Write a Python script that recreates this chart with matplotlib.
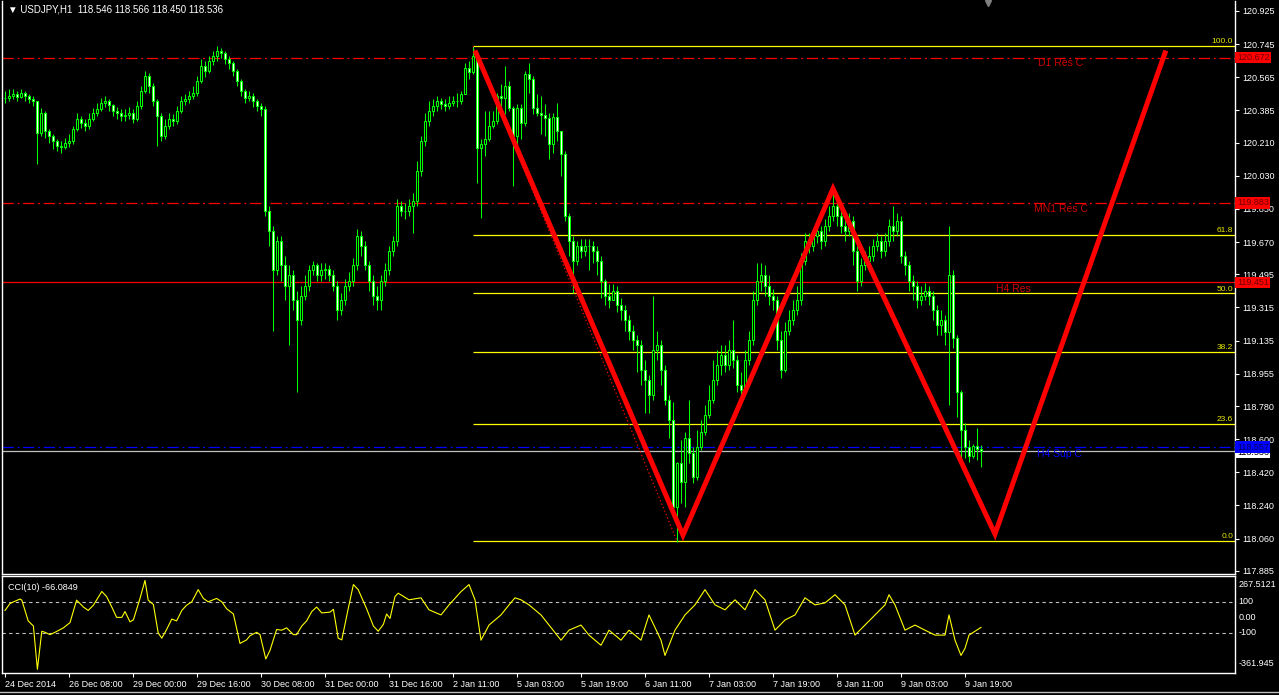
import numpy as np
import matplotlib.pyplot as plt
import matplotlib.transforms as mtransforms

plt.rcParams['font.family'] = ['Liberation Sans', 'DejaVu Sans']

# USDJPY H1, one value per bar (24 Dec 2014 .. 9 Jan 2015)
first_open = 120.45
closes = [
    120.453, 120.464, 120.475, 120.458, 120.480, 120.464, 120.448, 120.437, 120.263, 120.372,
    120.274, 120.247, 120.220, 120.193, 120.187, 120.209, 120.220, 120.285, 120.339, 120.318,
    120.301, 120.339, 120.372, 120.394, 120.426, 120.437, 120.415, 120.383, 120.372, 120.356,
    120.361, 120.372, 120.339, 120.410, 120.491, 120.573, 120.518, 120.437, 120.356, 120.247,
    120.301, 120.339, 120.329, 120.383, 120.437, 120.448, 120.464, 120.480, 120.545, 120.627,
    120.600, 120.654, 120.681, 120.708, 120.697, 120.665, 120.643, 120.600, 120.545, 120.491,
    120.453, 120.464, 120.437, 120.410, 120.394, 119.841, 119.732, 119.516, 119.678, 119.543,
    119.434, 119.489, 119.353, 119.245, 119.380, 119.434, 119.516, 119.543, 119.489, 119.516,
    119.526, 119.489, 119.434, 119.299, 119.353, 119.434, 119.461, 119.543, 119.705, 119.651,
    119.543, 119.461, 119.380, 119.353, 119.461, 119.516, 119.624, 119.678, 119.868, 119.841,
    119.841, 119.868, 119.895, 120.058, 120.220, 120.329, 120.383, 120.410, 120.437, 120.421,
    120.410, 120.426, 120.437, 120.437, 120.475, 120.616, 120.594, 120.681, 120.182, 120.204,
    120.231, 120.301, 120.329, 120.464, 120.453, 120.518, 120.399, 120.247, 120.399, 120.318,
    120.583, 120.556, 120.399, 120.372, 120.361, 120.345, 120.204, 120.350, 120.274, 120.150,
    119.814, 119.678, 119.570, 119.651, 119.624, 119.651, 119.651, 119.624, 119.570, 119.461,
    119.380, 119.353, 119.407, 119.326, 119.299, 119.245, 119.190, 119.136, 119.109, 118.974,
    118.919, 118.838, 119.082, 119.109, 118.974, 118.811, 118.703, 118.231, 118.470, 118.366,
    118.605, 118.524, 118.394, 118.556, 118.638, 118.730, 118.811, 118.919, 119.001, 119.055,
    119.001, 119.082, 119.028, 118.892, 118.865, 119.028, 119.136, 119.353, 119.461, 119.489,
    119.434, 119.380, 119.353, 119.136, 118.974, 119.190, 119.245, 119.299, 119.353, 119.570,
    119.678, 119.651, 119.705, 119.732, 119.678, 119.760, 119.814, 119.868, 119.814, 119.760,
    119.732, 119.787, 119.624, 119.461, 119.543, 119.570, 119.597, 119.651, 119.678, 119.624,
    119.678, 119.760, 119.732, 119.787, 119.597, 119.543, 119.461, 119.434, 119.353, 119.380,
    119.407, 119.380, 119.299, 119.218, 119.245, 119.180, 119.489, 119.152, 118.854, 118.648,
    118.556, 118.508, 118.562, 118.546, 118.536,
]
highs = [
    120.491, 120.502, 120.502, 120.491, 120.502, 120.491, 120.475, 120.464, 120.437, 120.399,
    120.383, 120.285, 120.258, 120.231, 120.220, 120.236, 120.258, 120.301, 120.372, 120.356,
    120.339, 120.372, 120.399, 120.426, 120.453, 120.464, 120.448, 120.421, 120.404, 120.394,
    120.394, 120.404, 120.394, 120.437, 120.518, 120.600, 120.589, 120.534, 120.448, 120.372,
    120.339, 120.372, 120.367, 120.410, 120.464, 120.475, 120.491, 120.518, 120.573, 120.665,
    120.654, 120.681, 120.708, 120.735, 120.724, 120.708, 120.681, 120.654, 120.611, 120.556,
    120.502, 120.491, 120.480, 120.448, 120.426, 120.410, 119.868, 119.760, 119.705, 119.705,
    119.597, 119.543, 119.516, 119.407, 119.434, 119.489, 119.543, 119.570, 119.559, 119.559,
    119.559, 119.543, 119.516, 119.461, 119.396, 119.472, 119.505, 119.581, 119.743, 119.732,
    119.678, 119.570, 119.489, 119.434, 119.489, 119.559, 119.651, 119.705, 119.906, 119.895,
    119.884, 119.906, 119.938, 120.112, 120.247, 120.372, 120.437, 120.448, 120.464, 120.453,
    120.448, 120.464, 120.464, 120.480, 120.491, 120.643, 120.654, 120.735, 120.681, 120.231,
    120.383, 120.383, 120.383, 120.480, 120.529, 120.627, 120.545, 120.410, 120.421, 120.421,
    120.600, 120.643, 120.573, 120.475, 120.464, 120.421, 120.372, 120.372, 120.426, 120.274,
    120.166, 119.830, 119.705, 119.678, 119.689, 119.689, 119.689, 119.678, 119.651, 119.597,
    119.472, 119.445, 119.445, 119.434, 119.364, 119.326, 119.272, 119.218, 119.163, 119.136,
    119.028, 118.946, 119.380, 119.190, 119.136, 119.001, 118.838, 118.800, 118.475, 118.594,
    118.638, 118.811, 118.556, 118.648, 118.703, 118.784, 118.892, 119.028, 119.082, 119.109,
    119.109, 119.136, 119.245, 119.055, 118.963, 119.082, 119.190, 119.407, 119.559, 119.559,
    119.543, 119.489, 119.418, 119.380, 119.190, 119.234, 119.299, 119.353, 119.434, 119.613,
    119.722, 119.722, 119.743, 119.776, 119.760, 119.797, 119.868, 119.960, 119.895, 119.841,
    119.797, 119.830, 119.814, 119.651, 119.581, 119.624, 119.651, 119.689, 119.722, 119.705,
    119.722, 119.797, 119.868, 119.830, 119.814, 119.624, 119.570, 119.489, 119.461, 119.434,
    119.450, 119.434, 119.407, 119.326, 119.299, 119.272, 119.760, 119.516, 119.163, 118.865,
    118.687, 118.594, 118.572, 118.660, 118.566,
]
lows = [
    120.426, 120.437, 120.448, 120.437, 120.453, 120.437, 120.426, 120.410, 120.096, 120.247,
    120.236, 120.209, 120.177, 120.166, 120.155, 120.177, 120.187, 120.204, 120.274, 120.291,
    120.274, 120.285, 120.329, 120.356, 120.383, 120.404, 120.383, 120.356, 120.339, 120.329,
    120.329, 120.339, 120.318, 120.329, 120.394, 120.480, 120.480, 120.410, 120.193, 120.220,
    120.231, 120.285, 120.301, 120.312, 120.372, 120.415, 120.426, 120.448, 120.464, 120.534,
    120.567, 120.589, 120.632, 120.654, 120.670, 120.638, 120.611, 120.573, 120.518, 120.464,
    120.426, 120.437, 120.404, 120.383, 120.356, 119.814, 119.651, 119.190, 119.489, 119.461,
    119.353, 119.109, 119.299, 118.854, 119.218, 119.353, 119.407, 119.489, 119.461, 119.461,
    119.472, 119.461, 119.407, 119.245, 119.272, 119.326, 119.407, 119.434, 119.516, 119.597,
    119.516, 119.407, 119.326, 119.299, 119.299, 119.434, 119.489, 119.597, 119.651, 119.814,
    119.797, 119.814, 119.722, 119.868, 120.031, 120.193, 120.301, 120.356, 120.383, 120.394,
    120.383, 120.394, 120.410, 120.404, 120.421, 120.475, 120.556, 120.583, 119.992, 119.803,
    120.139, 120.220, 120.291, 120.312, 120.372, 120.367, 120.383, 119.976, 120.166, 120.231,
    120.301, 120.480, 120.367, 120.356, 120.258, 120.247, 120.123, 120.155, 120.220, 120.031,
    119.787, 119.597, 119.396, 119.543, 119.581, 119.597, 119.516, 119.559, 119.489, 119.364,
    119.326, 119.310, 119.353, 119.288, 119.245, 119.190, 119.136, 119.082, 118.963, 118.892,
    118.740, 118.740, 118.811, 119.028, 118.892, 118.784, 118.605, 118.177, 118.041, 118.253,
    118.231, 118.470, 118.361, 118.377, 118.540, 118.621, 118.714, 118.795, 118.892, 118.946,
    118.963, 118.974, 118.984, 118.854, 118.811, 118.838, 119.001, 119.109, 119.326, 119.407,
    119.380, 119.326, 119.299, 119.082, 118.930, 118.963, 119.163, 119.218, 119.272, 119.326,
    119.543, 119.613, 119.624, 119.667, 119.635, 119.651, 119.732, 119.787, 119.760, 119.722,
    119.678, 119.705, 119.543, 119.407, 119.434, 119.516, 119.543, 119.570, 119.624, 119.581,
    119.597, 119.651, 119.678, 119.705, 119.559, 119.489, 119.407, 119.353, 119.310, 119.326,
    119.353, 119.326, 119.245, 119.163, 119.163, 119.109, 118.784, 119.093, 118.719, 118.497,
    118.497, 118.475, 118.497, 118.486, 118.450,
]

# CCI(10) (bar, value)
cci_bars = [0, 1.25, 2.5, 3.75, 4.2, 5.8, 7.1, 8.1, 9.2, 10, 11.25, 12.5, 14.6, 16.25, 17.9, 19.6,
            20.8, 22.1, 24.2, 25.4, 26.7, 27.9, 29.2, 30, 31.25, 32.1, 33.75, 35, 35.8, 37.1, 38.3,
            39.2, 40.4, 41.7, 42.9, 44.2, 45.4, 46.7, 48.3, 49.6, 50.8, 52.9, 54.2, 55.4, 57.1,
            58.75, 60.4, 61.25, 62.9, 63.75, 65.2, 66.25, 67.9, 69.2, 70.4, 72.1, 72.9, 74.2, 75.4,
            76.7, 77.9, 79.2, 81.25, 82.1, 83.3, 84.2, 85.8, 87.1, 88.3, 90.4, 92.1, 93.3, 94.6,
            95.4, 96.25, 97.5, 98.3, 101, 104, 106, 109, 111, 114, 116, 117.5, 119, 121, 124, 126,
            127.5, 129, 131, 134, 136, 139, 141, 144, 146, 149, 151, 154, 156, 159, 161, 164, 165,
            167.5, 170, 172.5, 175, 177.5, 180, 182.5, 185, 187.5, 190, 192.5, 195, 197.5, 200,
            202.5, 205, 207.5, 210, 212.5, 215, 217.5, 220, 221, 222.5, 225, 227.5, 230, 232.5,
            235, 236, 237.5, 239, 240, 241, 244]
cci_vals = [44, 89, 104, 118, 111, -24, -57, -338, -91, -98, -113, -98, -69, -35, 111, 66,
            44, 78, 167, 134, 66, -1, -1, 37, -30, -17, 122, 239, 111, 82, -102,
            -136, -80, -12, -24, 44, 78, 100, 179, 122, 100, 122, 100, 55, 21,
            -170, -147, -120, -98, -113, -271, -215, -80, -84, -69, -113, -113, -57, -24,
            37, 66, 28, 33, 51, -136, -147, 55, 212, 179, 55, -57, -91, -46,
            21, -8, 134, 156, 113, 126, 48, 15, 80, 166, 212, 113, -149, -51, 15, 80,
            126, 113, 80, 15, -51, -149, -84, -51, -116, -182, -84, -149, -84, -149, 15, -149, -248,
            -84, 15, 80, 179, 80, 48, 113, 48, 179, 113, -84, -18, 15, 126,
            80, 93, 146, 80, -116, -51, 15, 80, 146, 80, -84, -51, -84, -116,
            -116, 15, -149, -248, -202, -116, -66]

date_labels = ['24 Dec 2014', '26 Dec 08:00', '29 Dec 00:00', '29 Dec 16:00', '30 Dec 08:00',
               '31 Dec 00:00', '31 Dec 16:00', '2 Jan 11:00', '5 Jan 03:00', '5 Jan 19:00',
               '6 Jan 11:00', '7 Jan 03:00', '7 Jan 19:00', '8 Jan 11:00', '9 Jan 03:00',
               '9 Jan 19:00']
price_ticks = [120.925, 120.745, 120.565, 120.385, 120.210, 120.030, 119.850, 119.670, 119.495,
               119.315, 119.135, 118.955, 118.780, 118.600, 118.420, 118.240, 118.060, 117.885]

# hand drawn pattern (bar, price)
zz_bars = [117.75, 169.5, 207, 247.5, 290]
zz_prices = [120.697, 118.079, 119.960, 118.085, 120.697]

# fibo retracement
fib_bar0, fib_bar1 = 117, 168
fib_high, fib_low = 120.735, 118.047
fib_levels = [0.0, 23.6, 38.2, 50.0, 61.8, 100.0]

# support / resistance lines
lvl_names = ['D1 Res C', 'MN1 Res C', 'H4 Res', 'H4 Sup C']
lvl_prices = [120.672, 119.883, 119.451, 118.557]
lvl_colors = ['#ff0000', '#ff0000', '#ff0000', '#0000ff']
lvl_styles = ['dashdot', 'dashdot', 'solid', 'dashdot']
lvl_text_bars = [258.25, 257.25, 247.75, 258]
lvl_text_prices = [120.643, 119.852, 119.418, 118.518]
bid = 118.536

opens = [first_open] + closes[:-1]
n = len(closes)
idx = np.arange(n)
hi = np.maximum(highs, np.maximum(opens, closes))
lo = np.minimum(lows, np.minimum(opens, closes))

fig = plt.figure(figsize=(12.79, 6.95), dpi=100, facecolor='black')
ax = fig.add_axes([2/1279, 1-574/695, 1233/1279, 573/695], facecolor='black')
ax2 = fig.add_axes([2/1279, 1-673/695, 1233/1279, 97/695], facecolor='black', sharex=ax)

for a in (ax, ax2):
    for s in a.spines.values():
        s.set_color('white')
        s.set_linewidth(1)
ax.spines['top'].set_visible(False)

xmin, xmax = -0.75, 307.5
ax.set_xlim(xmin, xmax)
ax.set_ylim(117.868, 120.979)

# candles
lime = '#00ff00'
ax.vlines(idx, lo, hi, color=lime, lw=0.75, zorder=3)
body_lo = np.minimum(opens, closes)
body_h = np.abs(np.array(closes) - np.array(opens))
face = ['white' if c < o else 'black' for o, c in zip(opens, closes)]
ax.bar(idx, body_h, bottom=body_lo, width=0.5, color=face, edgecolor=lime, linewidth=0.75, zorder=4)

# fibo
rng = fib_high - fib_low
for lv in fib_levels:
    p = fib_low + rng * lv / 100
    ax.hlines(p, fib_bar0, xmax, color='#ffff00', lw=0.9, zorder=2)
    ax.text(xmax - 0.5, p + 0.004, '%.1f' % lv, color='#e8e800', fontsize=6, ha='right', va='bottom', zorder=6)
ax.plot([fib_bar0, fib_bar1], [fib_high, fib_low], color='#ff0000', lw=0.9, ls=(0, (1, 2)), zorder=5)

# level lines
for name, p, c, st, tb, tp in zip(lvl_names, lvl_prices, lvl_colors, lvl_styles, lvl_text_bars, lvl_text_prices):
    if st == 'dashdot':
        ls = (0, (9, 3, 1.5, 3))
    else:
        ls = 'solid'
    ax.axhline(p, color=c, lw=0.9, ls=ls, zorder=2)
    tc = '#d00000' if c == '#ff0000' else '#0000ff'
    ax.text(tb, tp, name, color=tc, fontsize=7.5, ha='left', va='center', zorder=6)
ax.axhline(bid, color='#c0c0c0', lw=0.9, zorder=2)

# zigzag pattern
ax.plot(zz_bars, zz_prices, color='#ff0000', lw=3.6, solid_joinstyle='miter', zorder=7)

# right price scale
ax.yaxis.tick_right()
ax.set_yticks(price_ticks)
ax.set_yticklabels(['%.3f' % p for p in price_ticks])
ax.tick_params(axis='y', colors='white', labelsize=6.5, length=3, width=0.8, pad=2)
ax.tick_params(axis='x', bottom=False, labelbottom=False)

tr = mtransforms.blended_transform_factory(ax.transAxes, ax.transData)
ax.text(1.0015, bid - 0.006, '%.3f' % bid, transform=tr, color='black', fontsize=6.5, ha='left', va='center',
        bbox=dict(boxstyle='square,pad=0.15', fc='white', ec='none'), clip_on=False, zorder=8)
for p, c in zip(lvl_prices, lvl_colors):
    tc = '#700000' if c == '#ff0000' else '#000060'
    ax.text(1.0015, p, '%.3f' % p, transform=tr, color=tc, fontsize=6.5, ha='left', va='center',
            bbox=dict(boxstyle='square,pad=0.15', fc=c, ec='none'), clip_on=False, zorder=9)

ax.text(6/1233, 1 - 9/573, '\u25bc USDJPY,H1  118.546 118.566 118.450 118.536', transform=ax.transAxes,
        color='white', fontsize=7, ha='left', va='center', zorder=10)
ax.plot([245.75], [120.970], marker='v', color='#808080', ms=4.5, clip_on=False, zorder=10)

# CCI panel
cci_min, cci_max = -361.945, 267.5121
ax2.set_ylim(cci_min, cci_max)
ax2.axhline(100, color='#c0c0c0', lw=0.8, ls=(0, (3, 3)))
ax2.axhline(-100, color='#c0c0c0', lw=0.8, ls=(0, (3, 3)))
ax2.plot(cci_bars, cci_vals, color='#ffff00', lw=0.8)
ax2.set_yticks([])
tr2 = mtransforms.blended_transform_factory(ax2.transAxes, ax2.transData)
for v, txt in [(100, '100'), (0, '0.00'), (-100, '-100')]:
    ax2.text(1.003, v, txt, transform=tr2, color='white', fontsize=6.5, ha='left', va='center', clip_on=False)
ax2.text(1.003, 0.96, '%.4f' % cci_max, transform=ax2.transAxes, color='white', fontsize=6.5, ha='left', va='top')
ax2.text(1.003, 0.05, '%.3f' % cci_min, transform=ax2.transAxes, color='white', fontsize=6.5, ha='left', va='bottom')
ax2.text(6/1233, 0.93, 'CCI(10) -66.0849', transform=ax2.transAxes, color='white', fontsize=6.5, ha='left', va='top')

ax2.set_xticks(np.arange(0, 241, 16))
ax2.set_xticklabels(date_labels, ha='left')
ax2.tick_params(axis='x', colors='white', labelsize=6.5, length=3, width=0.8, pad=2)

fig.add_artist(plt.Line2D([0, 1], [1 - 692/695] * 2, color='#c0c0c0', lw=1))

fig.savefig('out.png', dpi=100, facecolor='black')
